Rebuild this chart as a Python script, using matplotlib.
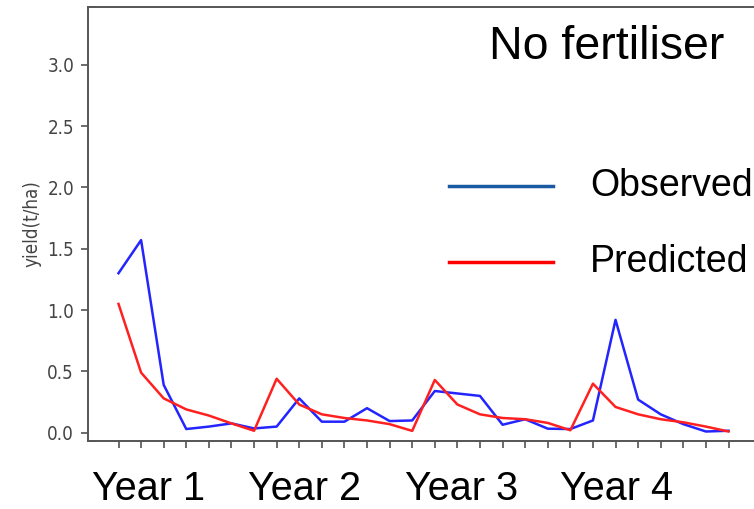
import matplotlib
matplotlib.use("Agg")
import matplotlib.pyplot as plt
from matplotlib.lines import Line2D

# Data
observed = [1.30, 1.57, 0.39, 0.03, 0.05, 0.076, 0.035,
            0.05, 0.28, 0.09, 0.09, 0.20, 0.095, 0.10,
            0.34, 0.32, 0.30, 0.065, 0.11, 0.033, 0.03,
            0.10, 0.92, 0.27, 0.15, 0.07, 0.01, 0.016]
predicted = [1.05, 0.49, 0.28, 0.19, 0.14, 0.076, 0.016,
             0.44, 0.23, 0.15, 0.12, 0.10, 0.07, 0.015,
             0.43, 0.23, 0.15, 0.12, 0.11, 0.08, 0.02,
             0.40, 0.21, 0.15, 0.11, 0.085, 0.05, 0.01]
year_labels = ["Year 1", "Year 2", "Year 3", "Year 4"]
yticks = [0.0, 0.5, 1.0, 1.5, 2.0, 2.5, 3.0]
title = "No fertiliser"
series_labels = ["Observed", "Predicted"]

W, H = 754, 509
fig = plt.figure(figsize=(W / 100, H / 100), dpi=100)
ax = fig.add_axes([88 / W, 1 - 440.7 / H, (759 - 88) / W, (440.7 - 7) / H])

x = list(range(len(observed)))
ax.plot(x, observed, color="#2424ff", lw=1.8)
ax.plot(x, predicted, color="#ff2020", lw=1.8)

ax.set_xlim(-1.35, len(x) - 1 + 1.35)
ax.set_ylim(-0.065, 3.47)
ax.set_xticks(x)
ax.set_xticklabels([])
ax.set_yticks(yticks)
ax.set_yticklabels([f"{v:.1f}" for v in yticks], color="#444444", fontsize=13.5,
                   fontstretch="condensed")
ax.set_ylabel("yield(t/ha)", color="#444444", fontsize=13.5, labelpad=4,
              fontstretch="condensed")

for s in ["left", "bottom", "top"]:
    ax.spines[s].set_color("#555555")
    ax.spines[s].set_linewidth(1.4)
ax.spines["right"].set_visible(False)
ax.tick_params(axis="both", direction="out", length=5, width=1.1, color="#444444")
ax.tick_params(axis="y", pad=5)

# Overlay texts
fig.text(607 / W, 1 - 47 / H, title, fontsize=33.5, family="Liberation Sans",
         ha="center", va="center", color="black")

leg_colors = ["#1a5aa0", "#ff0000"]
leg_y = [186, 262]
for lab, c, yy in zip(series_labels, leg_colors, leg_y):
    fig.add_artist(Line2D([449 / W, 553 / W], [1 - yy / H, 1 - yy / H],
                          color=c, lw=2.5, transform=fig.transFigure))
    fig.text(590 / W, 1 - yy / H, lab, fontsize=27, family="Liberation Sans",
             ha="left", va="center", color="black")

year_x = [148, 305, 462, 617]
for lab, xx in zip(year_labels, year_x):
    fig.text(xx / W, 1 - 500 / H, lab, fontsize=28.5, family="Liberation Sans",
             ha="center", va="baseline", color="black")

fig.savefig("out.png", dpi=100)
